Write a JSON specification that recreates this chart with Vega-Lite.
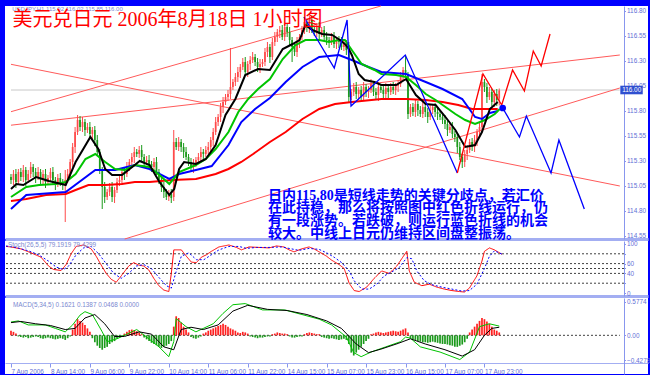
{
"$schema":"https://vega.github.io/schema/vega-lite/v6.json",
"background":"#0000ff",
"padding":{"left":4,"top":4,"right":3,"bottom":3},
"spacing":2,
"bounds":"flush",
"config":{"view":{"fill":"white","stroke":null},"axis":{"grid":false,"minExtent":0,"labelFont":"Liberation Sans","labelFontSize":6.4,"labelColor":"#5f6fd6","domainColor":"#8896ee","tickColor":"#8896ee"}},
"datasets":{
"candles":[
{"i":0,"o":115.135,"h":115.165,"l":115.065,"c":115.105},{"i":1,"o":115.105,"h":115.205,"l":115.055,"c":115.165},{"i":2,"o":115.165,"h":115.215,"l":115.025,"c":115.085},{"i":3,"o":115.085,"h":115.215,"l":115.055,"c":115.185},{"i":4,"o":115.185,"h":115.225,"l":115.095,"c":115.135},{"i":5,"o":115.135,"h":115.255,"l":115.085,"c":115.205},{"i":6,"o":115.205,"h":115.235,"l":115.045,"c":115.105},{"i":7,"o":115.105,"h":115.205,"l":115.075,"c":115.165},{"i":8,"o":115.165,"h":115.285,"l":115.125,"c":115.235},{"i":9,"o":115.235,"h":115.265,"l":115.135,"c":115.185},
{"i":10,"o":115.185,"h":115.225,"l":115.075,"c":115.135},{"i":11,"o":115.135,"h":115.235,"l":115.105,"c":115.185},{"i":12,"o":115.185,"h":115.215,"l":115.065,"c":115.105},{"i":13,"o":115.105,"h":115.205,"l":115.055,"c":115.165},{"i":14,"o":115.165,"h":115.215,"l":115.025,"c":115.085},{"i":15,"o":115.085,"h":115.155,"l":115.055,"c":115.125},{"i":16,"o":115.125,"h":115.225,"l":115.085,"c":115.185},{"i":17,"o":115.185,"h":115.235,"l":115.055,"c":115.105},{"i":18,"o":115.105,"h":115.135,"l":115.005,"c":115.065},{"i":19,"o":115.065,"h":115.165,"l":115.035,"c":115.125},
{"i":20,"o":115.125,"h":115.175,"l":115.045,"c":115.085},{"i":21,"o":115.085,"h":115.115,"l":115.005,"c":115.055},{"i":22,"o":115.065,"h":115.205,"l":114.685,"c":115.105},{"i":23,"o":115.105,"h":115.215,"l":115.075,"c":115.165},{"i":24,"o":115.165,"h":115.315,"l":115.125,"c":115.285},{"i":25,"o":115.285,"h":115.475,"l":115.235,"c":115.435},{"i":26,"o":115.435,"h":115.635,"l":115.375,"c":115.585},{"i":27,"o":115.585,"h":115.755,"l":115.555,"c":115.705},{"i":28,"o":115.705,"h":115.745,"l":115.595,"c":115.635},{"i":29,"o":115.635,"h":115.735,"l":115.585,"c":115.685},
{"i":30,"o":115.685,"h":115.715,"l":115.545,"c":115.605},{"i":31,"o":115.605,"h":115.675,"l":115.575,"c":115.635},{"i":32,"o":115.635,"h":115.685,"l":115.525,"c":115.565},{"i":33,"o":115.565,"h":115.635,"l":115.515,"c":115.605},{"i":34,"o":115.605,"h":115.645,"l":115.445,"c":115.505},{"i":35,"o":115.505,"h":115.555,"l":115.355,"c":115.385},{"i":36,"o":115.385,"h":115.415,"l":115.165,"c":115.205},{"i":37,"o":115.205,"h":115.235,"l":114.815,"c":115.035},{"i":38,"o":115.035,"h":115.085,"l":114.875,"c":114.935},{"i":39,"o":114.935,"h":115.015,"l":114.905,"c":114.985},
{"i":40,"o":114.985,"h":115.075,"l":114.945,"c":115.035},{"i":41,"o":115.035,"h":115.085,"l":114.885,"c":114.935},{"i":42,"o":114.935,"h":115.035,"l":114.875,"c":115.005},{"i":43,"o":115.005,"h":115.125,"l":114.975,"c":115.085},{"i":44,"o":115.085,"h":115.155,"l":115.045,"c":115.105},{"i":45,"o":115.105,"h":115.215,"l":115.055,"c":115.185},{"i":46,"o":115.185,"h":115.225,"l":115.105,"c":115.165},{"i":47,"o":115.165,"h":115.285,"l":115.135,"c":115.235},{"i":48,"o":115.235,"h":115.315,"l":115.195,"c":115.285},{"i":49,"o":115.285,"h":115.375,"l":115.235,"c":115.335},
{"i":50,"o":115.335,"h":115.435,"l":115.275,"c":115.385},{"i":51,"o":115.385,"h":115.415,"l":115.335,"c":115.365},{"i":52,"o":115.365,"h":115.445,"l":115.325,"c":115.405},{"i":53,"o":115.405,"h":115.455,"l":115.285,"c":115.335},{"i":54,"o":115.335,"h":115.365,"l":115.225,"c":115.285},{"i":55,"o":115.285,"h":115.345,"l":115.255,"c":115.305},{"i":56,"o":115.305,"h":115.355,"l":115.225,"c":115.265},{"i":57,"o":115.265,"h":115.295,"l":115.185,"c":115.235},{"i":58,"o":115.235,"h":115.325,"l":115.175,"c":115.285},{"i":59,"o":115.285,"h":115.335,"l":115.155,"c":115.185},
{"i":60,"o":115.185,"h":115.215,"l":115.065,"c":115.105},{"i":61,"o":115.105,"h":115.145,"l":114.985,"c":115.035},{"i":62,"o":115.035,"h":115.085,"l":114.925,"c":114.985},{"i":63,"o":114.985,"h":115.015,"l":114.905,"c":114.935},{"i":64,"o":114.935,"h":115.005,"l":114.895,"c":114.965},{"i":65,"o":114.965,"h":115.015,"l":114.875,"c":114.925},{"i":66,"o":114.935,"h":115.605,"l":114.895,"c":115.485},{"i":67,"o":115.485,"h":115.525,"l":115.405,"c":115.435},{"i":68,"o":115.435,"h":115.535,"l":115.395,"c":115.485},{"i":69,"o":115.485,"h":115.515,"l":115.385,"c":115.435},
{"i":70,"o":115.435,"h":115.475,"l":115.325,"c":115.385},{"i":71,"o":115.385,"h":115.435,"l":115.305,"c":115.335},{"i":72,"o":115.335,"h":115.365,"l":115.245,"c":115.285},{"i":73,"o":115.285,"h":115.325,"l":115.185,"c":115.235},{"i":74,"o":115.235,"h":115.315,"l":115.175,"c":115.265},{"i":75,"o":115.265,"h":115.335,"l":115.235,"c":115.305},{"i":76,"o":115.305,"h":115.375,"l":115.265,"c":115.335},{"i":77,"o":115.335,"h":115.435,"l":115.285,"c":115.385},{"i":78,"o":115.385,"h":115.415,"l":115.305,"c":115.365},{"i":79,"o":115.365,"h":115.445,"l":115.335,"c":115.405},
{"i":80,"o":115.405,"h":115.485,"l":115.365,"c":115.435},{"i":81,"o":115.435,"h":115.535,"l":115.385,"c":115.505},{"i":82,"o":115.505,"h":115.625,"l":115.445,"c":115.585},{"i":83,"o":115.585,"h":115.735,"l":115.555,"c":115.685},{"i":84,"o":115.685,"h":115.765,"l":115.645,"c":115.735},{"i":85,"o":115.735,"h":115.875,"l":115.685,"c":115.835},{"i":86,"o":115.835,"h":115.935,"l":115.775,"c":115.885},{"i":87,"o":115.885,"h":115.965,"l":115.855,"c":115.935},{"i":88,"o":115.935,"h":116.005,"l":115.895,"c":115.965},{"i":89,"o":115.965,"h":116.425,"l":115.915,"c":116.035},
{"i":90,"o":116.035,"h":116.115,"l":116.005,"c":116.085},{"i":91,"o":116.085,"h":116.175,"l":116.045,"c":116.135},{"i":92,"o":116.135,"h":116.235,"l":116.085,"c":116.185},{"i":93,"o":116.185,"h":116.265,"l":116.125,"c":116.235},{"i":94,"o":116.235,"h":116.325,"l":116.205,"c":116.285},{"i":95,"o":116.285,"h":116.335,"l":116.145,"c":116.185},{"i":96,"o":116.185,"h":116.295,"l":116.135,"c":116.265},{"i":97,"o":116.265,"h":116.345,"l":116.205,"c":116.305},{"i":98,"o":116.305,"h":116.385,"l":116.275,"c":116.335},{"i":99,"o":116.335,"h":116.365,"l":116.245,"c":116.285},
{"i":100,"o":116.285,"h":116.325,"l":116.185,"c":116.235},{"i":101,"o":116.235,"h":116.315,"l":116.175,"c":116.265},{"i":102,"o":116.265,"h":116.315,"l":116.235,"c":116.285},{"i":103,"o":116.285,"h":116.425,"l":116.245,"c":116.385},{"i":104,"o":116.385,"h":116.485,"l":116.335,"c":116.435},{"i":105,"o":116.435,"h":116.465,"l":116.275,"c":116.335},{"i":106,"o":116.335,"h":116.525,"l":116.305,"c":116.485},{"i":107,"o":116.485,"h":116.585,"l":116.445,"c":116.535},{"i":108,"o":116.535,"h":116.615,"l":116.485,"c":116.585},{"i":109,"o":116.585,"h":116.645,"l":116.525,"c":116.605},
{"i":110,"o":116.605,"h":116.655,"l":116.505,"c":116.535},{"i":111,"o":116.535,"h":116.665,"l":116.495,"c":116.635},{"i":112,"o":116.635,"h":116.675,"l":116.535,"c":116.585},{"i":113,"o":116.585,"h":116.635,"l":116.445,"c":116.505},{"i":114,"o":116.505,"h":116.535,"l":116.285,"c":116.435},{"i":115,"o":116.435,"h":116.475,"l":116.345,"c":116.385},{"i":116,"o":116.385,"h":116.535,"l":116.335,"c":116.485},{"i":117,"o":116.485,"h":116.565,"l":116.425,"c":116.535},{"i":118,"o":116.535,"h":116.645,"l":116.505,"c":116.605},{"i":119,"o":116.605,"h":116.735,"l":116.565,"c":116.685},
{"i":120,"o":116.685,"h":116.715,"l":116.585,"c":116.635},{"i":121,"o":116.635,"h":116.745,"l":116.575,"c":116.705},{"i":122,"o":116.705,"h":116.755,"l":116.575,"c":116.605},{"i":123,"o":116.605,"h":116.635,"l":116.545,"c":116.585},{"i":124,"o":116.585,"h":116.675,"l":116.535,"c":116.635},{"i":125,"o":116.635,"h":116.685,"l":116.505,"c":116.565},{"i":126,"o":116.565,"h":116.635,"l":116.535,"c":116.605},{"i":127,"o":116.605,"h":116.645,"l":116.495,"c":116.535},{"i":128,"o":116.535,"h":116.585,"l":116.455,"c":116.505},{"i":129,"o":116.505,"h":116.535,"l":116.425,"c":116.485},
{"i":130,"o":116.485,"h":116.575,"l":116.455,"c":116.535},{"i":131,"o":116.535,"h":116.585,"l":116.425,"c":116.465},{"i":132,"o":116.465,"h":116.535,"l":116.415,"c":116.505},{"i":133,"o":116.505,"h":116.545,"l":116.425,"c":116.485},{"i":134,"o":116.485,"h":116.535,"l":116.405,"c":116.435},{"i":135,"o":116.435,"h":116.495,"l":116.395,"c":116.465},{"i":136,"o":116.465,"h":116.505,"l":116.355,"c":116.405},{"i":137,"o":116.435,"h":116.485,"l":115.885,"c":115.935},{"i":138,"o":115.935,"h":116.015,"l":115.905,"c":115.985},{"i":139,"o":115.985,"h":116.075,"l":115.945,"c":116.035},
{"i":140,"o":116.035,"h":116.085,"l":115.915,"c":115.965},{"i":141,"o":115.965,"h":116.035,"l":115.905,"c":116.005},{"i":142,"o":116.005,"h":116.045,"l":115.905,"c":115.935},{"i":143,"o":115.935,"h":116.085,"l":115.895,"c":116.035},{"i":144,"o":116.035,"h":116.065,"l":115.935,"c":115.985},{"i":145,"o":115.985,"h":116.045,"l":115.925,"c":116.005},{"i":146,"o":116.005,"h":116.115,"l":115.975,"c":116.065},{"i":147,"o":116.065,"h":116.095,"l":115.945,"c":115.985},{"i":148,"o":115.985,"h":116.025,"l":115.905,"c":115.955},{"i":149,"o":115.955,"h":116.085,"l":115.895,"c":116.035},
{"i":150,"o":116.035,"h":116.065,"l":115.975,"c":116.005},{"i":151,"o":116.005,"h":116.045,"l":115.925,"c":115.965},{"i":152,"o":115.965,"h":116.075,"l":115.915,"c":116.025},{"i":153,"o":116.025,"h":116.055,"l":115.925,"c":115.985},{"i":154,"o":115.985,"h":116.075,"l":115.955,"c":116.035},{"i":155,"o":116.035,"h":116.085,"l":115.965,"c":116.005},{"i":156,"o":116.005,"h":116.075,"l":115.955,"c":116.045},{"i":157,"o":116.045,"h":116.105,"l":115.985,"c":116.065},{"i":158,"o":116.065,"h":116.185,"l":116.035,"c":116.135},{"i":159,"o":116.135,"h":116.235,"l":116.095,"c":116.205},
{"i":160,"o":116.205,"h":116.355,"l":116.125,"c":116.165},{"i":161,"o":116.165,"h":116.185,"l":115.715,"c":115.765},{"i":162,"o":115.765,"h":115.865,"l":115.735,"c":115.835},{"i":163,"o":115.835,"h":115.875,"l":115.745,"c":115.785},{"i":164,"o":115.785,"h":115.915,"l":115.735,"c":115.865},{"i":165,"o":115.865,"h":115.895,"l":115.745,"c":115.805},{"i":166,"o":115.805,"h":115.845,"l":115.735,"c":115.765},{"i":167,"o":115.765,"h":115.885,"l":115.725,"c":115.835},{"i":168,"o":115.835,"h":115.865,"l":115.735,"c":115.785},{"i":169,"o":115.785,"h":115.825,"l":115.675,"c":115.735},
{"i":170,"o":115.735,"h":115.855,"l":115.705,"c":115.805},{"i":171,"o":115.805,"h":115.865,"l":115.765,"c":115.835},{"i":172,"o":115.835,"h":115.875,"l":115.735,"c":115.785},{"i":173,"o":115.785,"h":115.835,"l":115.705,"c":115.765},{"i":174,"o":115.765,"h":115.795,"l":115.705,"c":115.735},{"i":175,"o":115.735,"h":115.775,"l":115.665,"c":115.705},{"i":176,"o":115.705,"h":115.755,"l":115.615,"c":115.665},{"i":177,"o":115.665,"h":115.695,"l":115.545,"c":115.605},{"i":178,"o":115.605,"h":115.675,"l":115.575,"c":115.635},{"i":179,"o":115.635,"h":115.685,"l":115.525,"c":115.565},
{"i":180,"o":115.565,"h":115.595,"l":115.485,"c":115.535},{"i":181,"o":115.535,"h":115.575,"l":115.375,"c":115.435},{"i":182,"o":115.435,"h":115.485,"l":115.305,"c":115.335},{"i":183,"o":115.335,"h":115.365,"l":115.225,"c":115.285},{"i":184,"o":115.285,"h":115.405,"l":115.235,"c":115.365},{"i":185,"o":115.365,"h":115.455,"l":115.305,"c":115.405},{"i":186,"o":115.405,"h":115.515,"l":115.375,"c":115.485},{"i":187,"o":115.485,"h":115.525,"l":115.395,"c":115.435},{"i":188,"o":115.435,"h":115.555,"l":115.385,"c":115.505},{"i":189,"o":115.505,"h":115.615,"l":115.445,"c":115.585},
{"i":190,"o":115.585,"h":115.675,"l":115.555,"c":115.635},{"i":191,"o":115.635,"h":116.165,"l":115.605,"c":116.085},{"i":192,"o":116.085,"h":116.115,"l":115.985,"c":116.035},{"i":193,"o":116.035,"h":116.075,"l":115.875,"c":115.935},{"i":194,"o":115.935,"h":116.035,"l":115.905,"c":115.985},{"i":195,"o":115.985,"h":116.015,"l":115.845,"c":115.885},{"i":196,"o":115.885,"h":116.005,"l":115.835,"c":115.965},{"i":197,"o":115.965,"h":116.015,"l":115.845,"c":115.905},{"i":198,"o":115.92,"h":116.02,"l":115.85,"c":116.0}
],
"ma":[
{"s":"r","i":0,"p":114.895},{"s":"r","i":6.2,"p":114.915},{"s":"r","i":14.2,"p":114.955},{"s":"r","i":22.2,"p":114.965},{"s":"r","i":26.2,"p":115.005},{"s":"r","i":31.4,"p":115.055},{"s":"r","i":38.2,"p":115.055},{"s":"r","i":45,"p":115.065},{"s":"r","i":50.2,"p":115.085},{"s":"r","i":56.2,"p":115.085},{"s":"r","i":65.4,"p":115.105},{"s":"r","i":75,"p":115.115},{"s":"r","i":83,"p":115.165},{"s":"r","i":88.2,"p":115.215},{"s":"r","i":93.4,"p":115.285},{"s":"r","i":98.2,"p":115.365},{"s":"r","i":105,"p":115.485},{"s":"r","i":111.4,"p":115.585},{"s":"r","i":118.2,"p":115.715},{"s":"r","i":125,"p":115.815},{"s":"r","i":131.4,"p":115.865},{"s":"r","i":138.2,"p":115.885},{"s":"r","i":150.2,"p":115.915},{"s":"r","i":160.2,"p":115.915},{"s":"r","i":168.2,"p":115.905},{"s":"r","i":175,"p":115.885},{"s":"r","i":181.4,"p":115.855},{"s":"r","i":187,"p":115.815},{"s":"r","i":197.4,"p":115.815},
{"s":"b","i":0,"p":114.815},{"s":"b","i":6.2,"p":114.955},{"s":"b","i":22.2,"p":114.985},{"s":"b","i":34.2,"p":115.205},{"s":"b","i":42.2,"p":115.205},{"s":"b","i":50.2,"p":115.255},{"s":"b","i":56.2,"p":115.215},{"s":"b","i":60.2,"p":115.165},{"s":"b","i":64.2,"p":115.115},{"s":"b","i":68.2,"p":115.165},{"s":"b","i":75,"p":115.205},{"s":"b","i":81.4,"p":115.245},{"s":"b","i":88.2,"p":115.455},{"s":"b","i":93.4,"p":115.685},{"s":"b","i":99,"p":115.815},{"s":"b","i":105,"p":115.925},{"s":"b","i":111.4,"p":116.085},{"s":"b","i":118.2,"p":116.235},{"s":"b","i":125,"p":116.335},{"s":"b","i":133,"p":116.355},{"s":"b","i":138.2,"p":116.305},{"s":"b","i":145,"p":116.235},{"s":"b","i":150.2,"p":116.185},{"s":"b","i":160.2,"p":116.165},{"s":"b","i":168.2,"p":116.085},{"s":"b","i":175,"p":116.015},{"s":"b","i":183,"p":115.915},{"s":"b","i":188.2,"p":115.735},{"s":"b","i":191,"p":115.715},{"s":"b","i":194.2,"p":115.775},{"s":"b","i":197.4,"p":115.795},
{"s":"g","i":0,"p":114.935},{"s":"g","i":6.2,"p":115.035},{"s":"g","i":11.4,"p":115.055},{"s":"g","i":18.2,"p":115.065},{"s":"g","i":22.2,"p":115.085},{"s":"g","i":26.2,"p":115.165},{"s":"g","i":30.2,"p":115.315},{"s":"g","i":34.2,"p":115.365},{"s":"g","i":38.2,"p":115.285},{"s":"g","i":42.2,"p":115.215},{"s":"g","i":46.2,"p":115.205},{"s":"g","i":50.2,"p":115.255},{"s":"g","i":56.2,"p":115.235},{"s":"g","i":60.2,"p":115.155},{"s":"g","i":64.2,"p":115.065},{"s":"g","i":68.2,"p":115.185},{"s":"g","i":75,"p":115.255},{"s":"g","i":79,"p":115.315},{"s":"g","i":83,"p":115.415},{"s":"g","i":88.2,"p":115.585},{"s":"g","i":92.2,"p":115.785},{"s":"g","i":96.2,"p":115.915},{"s":"g","i":100.2,"p":116.015},{"s":"g","i":105,"p":116.115},{"s":"g","i":110.2,"p":116.315},{"s":"g","i":115.4,"p":116.455},{"s":"g","i":119.4,"p":116.505},{"s":"g","i":125,"p":116.505},{"s":"g","i":129,"p":116.485},{"s":"g","i":133,"p":116.505},{"s":"g","i":135.4,"p":116.505},{"s":"g","i":138.2,"p":116.405},{"s":"g","i":142.2,"p":116.265},{"s":"g","i":147.4,"p":116.205},{"s":"g","i":150.2,"p":116.165},{"s":"g","i":156.2,"p":116.155},{"s":"g","i":160.2,"p":116.135},{"s":"g","i":164.2,"p":116.055},{"s":"g","i":168.2,"p":115.965},{"s":"g","i":172.2,"p":115.905},{"s":"g","i":176.2,"p":115.835},{"s":"g","i":180.2,"p":115.765},{"s":"g","i":184.2,"p":115.705},{"s":"g","i":188.2,"p":115.665},{"s":"g","i":192.2,"p":115.705},{"s":"g","i":196.2,"p":115.765},{"s":"g","i":198.2,"p":115.815},
{"s":"k","i":0,"p":115.015},{"s":"k","i":2.2,"p":115.065},{"s":"k","i":5,"p":115.055},{"s":"k","i":10.2,"p":115.135},{"s":"k","i":15.4,"p":115.095},{"s":"k","i":22.2,"p":115.055},{"s":"k","i":26.2,"p":115.285},{"s":"k","i":32.2,"p":115.535},{"s":"k","i":35.4,"p":115.415},{"s":"k","i":38.2,"p":115.215},{"s":"k","i":41,"p":115.155},{"s":"k","i":45,"p":115.155},{"s":"k","i":50.2,"p":115.255},{"s":"k","i":52.2,"p":115.295},{"s":"k","i":56.2,"p":115.255},{"s":"k","i":60.2,"p":115.085},{"s":"k","i":64.2,"p":114.955},{"s":"k","i":66.2,"p":115.015},{"s":"k","i":68.2,"p":115.215},{"s":"k","i":70.2,"p":115.285},{"s":"k","i":75,"p":115.265},{"s":"k","i":79,"p":115.315},{"s":"k","i":83,"p":115.455},{"s":"k","i":87,"p":115.755},{"s":"k","i":91,"p":115.915},{"s":"k","i":95,"p":116.155},{"s":"k","i":100.2,"p":116.215},{"s":"k","i":105,"p":116.205},{"s":"k","i":110.2,"p":116.415},{"s":"k","i":114.2,"p":116.465},{"s":"k","i":117,"p":116.505},{"s":"k","i":119.4,"p":116.655},{"s":"k","i":122.2,"p":116.605},{"s":"k","i":126.2,"p":116.565},{"s":"k","i":130.2,"p":116.555},{"s":"k","i":133.4,"p":116.505},{"s":"k","i":135.4,"p":116.465},{"s":"k","i":137,"p":116.415},{"s":"k","i":138.2,"p":116.355},{"s":"k","i":141,"p":116.165},{"s":"k","i":143.4,"p":116.105},{"s":"k","i":147.4,"p":116.085},{"s":"k","i":150.2,"p":116.055},{"s":"k","i":156.2,"p":116.055},{"s":"k","i":160.2,"p":116.115},{"s":"k","i":164.2,"p":115.955},{"s":"k","i":168.2,"p":115.865},{"s":"k","i":172.2,"p":115.855},{"s":"k","i":176.2,"p":115.735},{"s":"k","i":180.2,"p":115.605},{"s":"k","i":184.2,"p":115.435},{"s":"k","i":188.2,"p":115.455},{"s":"k","i":191,"p":115.585},{"s":"k","i":194.2,"p":115.815},{"s":"k","i":197.4,"p":115.885}
],
"trend":[
{"id":"A","i":0,"p":115.653},{"id":"A","i":246.9,"p":116.355},
{"id":"B","i":46.1,"p":114.515},{"id":"B","i":246.9,"p":116.025},
{"id":"C","i":0,"p":116.262},{"id":"C","i":246.9,"p":115.045},
{"id":"D","i":0,"p":115.788},{"id":"D","i":150.0,"p":116.845}
],
"zig":[
{"id":"bz","i":118.8,"p":116.735},{"id":"bz","i":131.1,"p":116.225},{"id":"bz","i":136.3,"p":116.705},{"id":"bz","i":137.9,"p":115.845},{"id":"bz","i":159.9,"p":116.355},{"id":"bz","i":181.0,"p":115.175},
{"id":"rz","i":181.0,"p":115.175},{"id":"rz","i":191.4,"p":116.165},{"id":"rz","i":199.0,"p":115.855},{"id":"rz","i":203.4,"p":116.205},{"id":"rz","i":208.2,"p":115.995},{"id":"rz","i":211.8,"p":116.395},{"id":"rz","i":215.0,"p":116.245},{"id":"rz","i":218.6,"p":116.565},
{"id":"bf","i":199.4,"p":115.825},{"id":"bf","i":206.2,"p":115.535},{"id":"bf","i":209.0,"p":115.745},{"id":"bf","i":219.0,"p":115.175},{"id":"bf","i":222.2,"p":115.505},{"id":"bf","i":232.5,"p":114.815}
],
"price":[{"i":0,"i2":246.9,"p":116.005}],
"tag":[{"i":247.1,"i2":256.2,"p":116.048,"p2":115.962}],
"tagtext":[{"i":251.7,"p":116.005,"t":"116.00"}],
"dot":[{"i":199.4,"p":115.825}],
"title":[{"i":0.6,"p":116.71,"t":"美元兑日元  2006年8月18日  1小时图"}],
"header":[{"i":0.5,"p":116.797,"t":"USDJPY,H1  115.92 116.02 115.85 116.00"}],
"notes":[
{"i":104.2,"p":114.949,"t":"日内115.80是短线走势的关键分歧点，若汇价"},
{"i":104.2,"p":114.821,"t":"在此持稳，那么将按照图中红色折线运行，仍"},
{"i":104.2,"p":114.693,"t":"有一段涨势。若跌破，则运行蓝色折线的机会"},
{"i":104.2,"p":114.565,"t":"较大。中线上日元仍维持区间盘整振荡。"}
],
"levels":[{"i":0,"i2":246.9,"v":80},{"i":0,"i2":246.9,"v":60},{"i":0,"i2":246.9,"v":50},{"i":0,"i2":246.9,"v":40},{"i":0,"i2":246.9,"v":20}],
"stoch":[
{"s":"K","i":0,"v":95},{"s":"K","i":2,"v":94},{"s":"K","i":6,"v":90},{"s":"K","i":10,"v":82},{"s":"K","i":14,"v":73},{"s":"K","i":17,"v":55},{"s":"K","i":19,"v":48},{"s":"K","i":22,"v":46},{"s":"K","i":24,"v":58},{"s":"K","i":26,"v":80},{"s":"K","i":28,"v":95},{"s":"K","i":31,"v":98},{"s":"K","i":34,"v":90},{"s":"K","i":36,"v":75},{"s":"K","i":38,"v":57},{"s":"K","i":40,"v":40},{"s":"K","i":42,"v":28},{"s":"K","i":44,"v":22},{"s":"K","i":46,"v":35},{"s":"K","i":49,"v":55},{"s":"K","i":51,"v":62},{"s":"K","i":53,"v":57},{"s":"K","i":55,"v":55},{"s":"K","i":57,"v":47},{"s":"K","i":59,"v":30},{"s":"K","i":61,"v":15},{"s":"K","i":63,"v":6},{"s":"K","i":65,"v":3},{"s":"K","i":66,"v":40},{"s":"K","i":67,"v":88},{"s":"K","i":70,"v":88},{"s":"K","i":72,"v":75},{"s":"K","i":74,"v":63},{"s":"K","i":76,"v":62},{"s":"K","i":78,"v":73},{"s":"K","i":80,"v":78},{"s":"K","i":82,"v":85},{"s":"K","i":85,"v":94},{"s":"K","i":89,"v":98},{"s":"K","i":92,"v":93},{"s":"K","i":94,"v":88},{"s":"K","i":97,"v":94},{"s":"K","i":101,"v":93},{"s":"K","i":105,"v":92},{"s":"K","i":108,"v":96},{"s":"K","i":111,"v":94},{"s":"K","i":113,"v":88},{"s":"K","i":115,"v":84},{"s":"K","i":118,"v":90},{"s":"K","i":121,"v":94},{"s":"K","i":123,"v":90},{"s":"K","i":125,"v":84},{"s":"K","i":128,"v":75},{"s":"K","i":130,"v":67},{"s":"K","i":133,"v":58},{"s":"K","i":135,"v":50},{"s":"K","i":137,"v":20},{"s":"K","i":139,"v":5},{"s":"K","i":141,"v":3},{"s":"K","i":144,"v":12},{"s":"K","i":147,"v":30},{"s":"K","i":150,"v":45},{"s":"K","i":153,"v":40},{"s":"K","i":156,"v":55},{"s":"K","i":158,"v":70},{"s":"K","i":160,"v":85},{"s":"K","i":161,"v":45},{"s":"K","i":163,"v":22},{"s":"K","i":166,"v":15},{"s":"K","i":169,"v":18},{"s":"K","i":172,"v":12},{"s":"K","i":175,"v":8},{"s":"K","i":178,"v":5},{"s":"K","i":181,"v":3},{"s":"K","i":183,"v":2},{"s":"K","i":185,"v":10},{"s":"K","i":188,"v":35},{"s":"K","i":190,"v":65},{"s":"K","i":191,"v":85},{"s":"K","i":193,"v":92},{"s":"K","i":195,"v":88},{"s":"K","i":198,"v":79},
{"s":"D","i":0,"v":96},{"s":"D","i":4,"v":93},{"s":"D","i":9,"v":86},{"s":"D","i":13,"v":78},{"s":"D","i":17,"v":65},{"s":"D","i":20,"v":53},{"s":"D","i":23,"v":48},{"s":"D","i":25,"v":55},{"s":"D","i":28,"v":78},{"s":"D","i":31,"v":92},{"s":"D","i":34,"v":95},{"s":"D","i":37,"v":80},{"s":"D","i":40,"v":60},{"s":"D","i":43,"v":40},{"s":"D","i":46,"v":30},{"s":"D","i":49,"v":40},{"s":"D","i":52,"v":55},{"s":"D","i":55,"v":58},{"s":"D","i":58,"v":50},{"s":"D","i":61,"v":32},{"s":"D","i":64,"v":15},{"s":"D","i":66,"v":10},{"s":"D","i":68,"v":45},{"s":"D","i":70,"v":75},{"s":"D","i":73,"v":82},{"s":"D","i":76,"v":68},{"s":"D","i":79,"v":68},{"s":"D","i":82,"v":78},{"s":"D","i":85,"v":88},{"s":"D","i":89,"v":95},{"s":"D","i":93,"v":95},{"s":"D","i":96,"v":91},{"s":"D","i":100,"v":93},{"s":"D","i":105,"v":93},{"s":"D","i":110,"v":94},{"s":"D","i":114,"v":90},{"s":"D","i":117,"v":87},{"s":"D","i":121,"v":91},{"s":"D","i":125,"v":89},{"s":"D","i":128,"v":82},{"s":"D","i":131,"v":73},{"s":"D","i":134,"v":62},{"s":"D","i":137,"v":45},{"s":"D","i":139,"v":25},{"s":"D","i":142,"v":8},{"s":"D","i":145,"v":8},{"s":"D","i":148,"v":18},{"s":"D","i":151,"v":35},{"s":"D","i":154,"v":43},{"s":"D","i":157,"v":52},{"s":"D","i":160,"v":72},{"s":"D","i":162,"v":70},{"s":"D","i":164,"v":45},{"s":"D","i":167,"v":25},{"s":"D","i":170,"v":17},{"s":"D","i":174,"v":12},{"s":"D","i":178,"v":8},{"s":"D","i":182,"v":4},{"s":"D","i":185,"v":5},{"s":"D","i":188,"v":18},{"s":"D","i":191,"v":50},{"s":"D","i":193,"v":75},{"s":"D","i":195,"v":86},{"s":"D","i":198,"v":79.4}
],
"stochhead":[{"i":0.8,"v":93,"t":"Stoch(26,5,5) 79.1919 79.4299"}],
"zero":[{"i":0,"i2":246.9,"v":0}],
"macd":[
{"s":"M","i":0,"v":0.23},{"s":"M","i":3,"v":0.25},{"s":"M","i":7,"v":0.18},{"s":"M","i":14,"v":0.18},{"s":"M","i":18,"v":0.12},{"s":"M","i":22,"v":0.06},{"s":"M","i":25,"v":0.18},{"s":"M","i":28,"v":0.35},{"s":"M","i":30,"v":0.41},{"s":"M","i":33,"v":0.36},{"s":"M","i":37,"v":0.06},{"s":"M","i":39,"v":-0.11},{"s":"M","i":43,"v":-0.06},{"s":"M","i":47,"v":0.02},{"s":"M","i":51,"v":0.1},{"s":"M","i":55,"v":-0.03},{"s":"M","i":60,"v":-0.2},{"s":"M","i":64,"v":-0.37},{"s":"M","i":66,"v":-0.11},{"s":"M","i":67,"v":0.29},{"s":"M","i":71,"v":0.15},{"s":"M","i":75,"v":0.06},{"s":"M","i":82,"v":0.2},{"s":"M","i":86,"v":0.38},{"s":"M","i":90,"v":0.53},{"s":"M","i":95,"v":0.55},{"s":"M","i":102,"v":0.44},{"s":"M","i":111,"v":0.44},{"s":"M","i":118,"v":0.36},{"s":"M","i":125,"v":0.28},{"s":"M","i":130,"v":0.18},{"s":"M","i":136,"v":-0.03},{"s":"M","i":139,"v":-0.3},{"s":"M","i":142,"v":-0.37},{"s":"M","i":146,"v":-0.29},{"s":"M","i":152,"v":-0.2},{"s":"M","i":158,"v":-0.11},{"s":"M","i":160,"v":-0.03},{"s":"M","i":162,"v":-0.05},{"s":"M","i":166,"v":-0.2},{"s":"M","i":174,"v":-0.29},{"s":"M","i":182,"v":-0.42},{"s":"M","i":186,"v":-0.29},{"s":"M","i":190,"v":0.15},{"s":"M","i":194,"v":0.2},{"s":"M","i":198,"v":0.16},
{"s":"S","i":0,"v":0.22},{"s":"S","i":4,"v":0.24},{"s":"S","i":10,"v":0.2},{"s":"S","i":16,"v":0.17},{"s":"S","i":22,"v":0.1},{"s":"S","i":26,"v":0.12},{"s":"S","i":30,"v":0.3},{"s":"S","i":34,"v":0.36},{"s":"S","i":38,"v":0.2},{"s":"S","i":42,"v":-0.02},{"s":"S","i":46,"v":-0.02},{"s":"S","i":52,"v":0.06},{"s":"S","i":57,"v":0.02},{"s":"S","i":62,"v":-0.2},{"s":"S","i":66,"v":-0.25},{"s":"S","i":69,"v":0.1},{"s":"S","i":73,"v":0.14},{"s":"S","i":78,"v":0.1},{"s":"S","i":84,"v":0.18},{"s":"S","i":90,"v":0.42},{"s":"S","i":96,"v":0.52},{"s":"S","i":104,"v":0.45},{"s":"S","i":112,"v":0.43},{"s":"S","i":120,"v":0.36},{"s":"S","i":128,"v":0.25},{"s":"S","i":134,"v":0.12},{"s":"S","i":140,"v":-0.15},{"s":"S","i":145,"v":-0.3},{"s":"S","i":150,"v":-0.24},{"s":"S","i":157,"v":-0.14},{"s":"S","i":162,"v":-0.06},{"s":"S","i":168,"v":-0.15},{"s":"S","i":176,"v":-0.25},{"s":"S","i":183,"v":-0.36},{"s":"S","i":188,"v":-0.25},{"s":"S","i":192,"v":0.0},{"s":"S","i":195,"v":0.12},{"s":"S","i":198,"v":0.14}
],
"hist":[
{"i":0,"v":0.08},{"i":1,"v":0.06},{"i":2,"v":0.03},{"i":3,"v":-0.02},{"i":4,"v":-0.03},{"i":5,"v":-0.04},{"i":6,"v":-0.03},{"i":7,"v":-0.05},{"i":8,"v":-0.04},{"i":9,"v":-0.03},{"i":10,"v":-0.02},{"i":11,"v":-0.03},{"i":12,"v":-0.05},{"i":13,"v":-0.06},{"i":14,"v":-0.05},{"i":15,"v":-0.04},{"i":16,"v":-0.05},{"i":17,"v":-0.06},{"i":18,"v":-0.07},{"i":19,"v":-0.06},{"i":20,"v":-0.05},{"i":21,"v":-0.06},{"i":22,"v":-0.08},{"i":23,"v":-0.05},{"i":24,"v":-0.02},
{"i":25,"v":0.1},{"i":26,"v":0.2},{"i":27,"v":0.28},{"i":28,"v":0.25},{"i":29,"v":0.22},{"i":30,"v":0.18},{"i":31,"v":0.12},{"i":32,"v":0.06},
{"i":33,"v":-0.05},{"i":34,"v":-0.12},{"i":35,"v":-0.18},{"i":36,"v":-0.22},{"i":37,"v":-0.25},{"i":38,"v":-0.22},{"i":39,"v":-0.2},{"i":40,"v":-0.15},{"i":41,"v":-0.12},{"i":42,"v":-0.1},{"i":43,"v":-0.06},{"i":44,"v":-0.04},{"i":45,"v":-0.02},
{"i":46,"v":0.03},{"i":47,"v":0.06},{"i":48,"v":0.09},{"i":49,"v":0.1},{"i":50,"v":0.09},{"i":51,"v":0.07},{"i":52,"v":0.05},{"i":53,"v":0.02},
{"i":54,"v":-0.04},{"i":55,"v":-0.07},{"i":56,"v":-0.1},{"i":57,"v":-0.13},{"i":58,"v":-0.15},{"i":59,"v":-0.17},{"i":60,"v":-0.2},{"i":61,"v":-0.22},{"i":62,"v":-0.2},{"i":63,"v":-0.18},{"i":64,"v":-0.15},{"i":65,"v":-0.1},
{"i":66,"v":0.15},{"i":67,"v":0.33},{"i":68,"v":0.3},{"i":69,"v":0.22},{"i":70,"v":0.15},{"i":71,"v":0.1},{"i":72,"v":0.05},
{"i":73,"v":-0.03},{"i":74,"v":-0.05},{"i":75,"v":-0.06},{"i":76,"v":-0.04},{"i":77,"v":-0.02},
{"i":78,"v":0.03},{"i":79,"v":0.05},{"i":80,"v":0.08},{"i":81,"v":0.1},{"i":82,"v":0.12},{"i":83,"v":0.14},{"i":84,"v":0.16},{"i":85,"v":0.18},{"i":86,"v":0.2},{"i":87,"v":0.18},{"i":88,"v":0.15},{"i":89,"v":0.12},{"i":90,"v":0.1},{"i":91,"v":0.08},{"i":92,"v":0.05},{"i":93,"v":0.04},{"i":94,"v":0.06},{"i":95,"v":0.05},{"i":96,"v":0.03},
{"i":97,"v":-0.02},{"i":98,"v":-0.03},{"i":99,"v":-0.04},{"i":100,"v":-0.05},{"i":101,"v":-0.04},{"i":102,"v":-0.04},{"i":103,"v":-0.03},{"i":104,"v":-0.02},{"i":105,"v":-0.02},
{"i":106,"v":0.02},{"i":107,"v":0.03},{"i":108,"v":0.05},{"i":109,"v":0.04},{"i":110,"v":0.03},{"i":111,"v":0.03},{"i":112,"v":0.02},
{"i":113,"v":-0.02},{"i":114,"v":-0.04},{"i":115,"v":-0.04},{"i":116,"v":-0.03},{"i":117,"v":-0.02},{"i":118,"v":-0.02},
{"i":119,"v":0.02},{"i":120,"v":0.04},{"i":121,"v":0.05},{"i":122,"v":0.04},{"i":123,"v":0.03},{"i":124,"v":0.02},{"i":125,"v":0.02},
{"i":126,"v":-0.03},{"i":127,"v":-0.04},{"i":128,"v":-0.05},{"i":129,"v":-0.06},{"i":130,"v":-0.05},{"i":131,"v":-0.06},{"i":132,"v":-0.07},{"i":133,"v":-0.08},{"i":134,"v":-0.07},{"i":135,"v":-0.06},{"i":136,"v":-0.08},
{"i":137,"v":-0.15},{"i":138,"v":-0.3},{"i":139,"v":-0.35},{"i":140,"v":-0.3},{"i":141,"v":-0.25},{"i":142,"v":-0.2},{"i":143,"v":-0.15},{"i":144,"v":-0.1},{"i":145,"v":-0.06},
{"i":146,"v":0.02},{"i":147,"v":0.03},{"i":148,"v":0.05},{"i":149,"v":0.06},{"i":150,"v":0.05},{"i":151,"v":0.04},{"i":152,"v":0.05},{"i":153,"v":0.06},{"i":154,"v":0.07},{"i":155,"v":0.08},{"i":156,"v":0.07},{"i":157,"v":0.06},{"i":158,"v":0.08},{"i":159,"v":0.1},{"i":160,"v":0.12},{"i":161,"v":0.05},
{"i":162,"v":-0.05},{"i":163,"v":-0.07},{"i":164,"v":-0.08},{"i":165,"v":-0.1},{"i":166,"v":-0.11},{"i":167,"v":-0.12},{"i":168,"v":-0.12},{"i":169,"v":-0.13},{"i":170,"v":-0.12},{"i":171,"v":-0.11},{"i":172,"v":-0.12},{"i":173,"v":-0.13},{"i":174,"v":-0.14},{"i":175,"v":-0.15},{"i":176,"v":-0.15},{"i":177,"v":-0.16},{"i":178,"v":-0.17},{"i":179,"v":-0.18},{"i":180,"v":-0.2},{"i":181,"v":-0.2},{"i":182,"v":-0.18},{"i":183,"v":-0.16},{"i":184,"v":-0.12},{"i":185,"v":-0.06},
{"i":186,"v":0.05},{"i":187,"v":0.1},{"i":188,"v":0.15},{"i":189,"v":0.2},{"i":190,"v":0.25},{"i":191,"v":0.3},{"i":192,"v":0.28},{"i":193,"v":0.24},{"i":194,"v":0.2},{"i":195,"v":0.15},{"i":196,"v":0.1},{"i":197,"v":0.08},{"i":198,"v":0.05}
],
"macdhead":[{"i":0.8,"v":0.53,"t":"MACD(5,34,5) 0.1621 0.1387 0.0468 0.0000"}]
},
"vconcat":[
{
"width":643,"height":233,
"encoding":{
"x":{"field":"i","type":"quantitative","scale":{"domain":[-0.4,256.3],"nice":false,"zero":false},"axis":{"orient":"bottom","labels":false,"ticks":false,"title":null,"domainColor":"#a3aef2","domainWidth":3}},
"y":{"field":"p","type":"quantitative","scale":{"domain":[114.515,116.845],"nice":false,"zero":false},"axis":{"orient":"right","offset":-24,"title":null,"values":[114.55,114.8,115.05,115.3,115.55,115.8,116.05,116.3,116.55,116.8],"format":".2f","tickSize":1.5,"labelPadding":1,"maxExtent":24}}
},
"layer":[
{"data":{"name":"price"},"mark":{"type":"rule","color":"#c8c8c8","strokeWidth":1},"encoding":{"x2":{"field":"i2"}}},
{"data":{"name":"trend"},"mark":{"type":"line","color":"#ff5a5a","strokeWidth":1},"encoding":{"detail":{"field":"id"}}},
{"data":{"name":"candles"},"mark":{"type":"rule","strokeWidth":1},"encoding":{"y":{"field":"l","type":"quantitative","scale":{"domain":[114.515,116.845],"nice":false,"zero":false}},"y2":{"field":"h"},"color":{"condition":{"test":"datum.c >= datum.o","value":"#ff4a4a"},"value":"#1c9a1c"}}},
{"data":{"name":"candles"},"mark":{"type":"bar","size":1.7},"encoding":{"y":{"field":"o","type":"quantitative","scale":{"domain":[114.515,116.845],"nice":false,"zero":false}},"y2":{"field":"c"},"color":{"condition":{"test":"datum.c >= datum.o","value":"#ff4a4a"},"value":"#1c9a1c"}}},
{"data":{"name":"ma"},"mark":{"type":"line"},"encoding":{"color":{"field":"s","type":"nominal","scale":{"domain":["r","b","g","k","bz","rz","bf"],"range":["#ff0000","#0000ff","#00c400","#000000","#0000ff","#ff0000","#0000ff"]},"legend":null},"strokeWidth":{"field":"s","type":"nominal","scale":{"domain":["r","b","g","k"],"range":[2,2,1.5,1.5]},"legend":null}}},
{"data":{"name":"zig"},"mark":{"type":"line","strokeWidth":1.3},"encoding":{"color":{"field":"id","type":"nominal","scale":{"domain":["r","b","g","k","bz","rz","bf"],"range":["#ff0000","#0000ff","#00c400","#000000","#0000ff","#ff0000","#0000ff"]},"legend":null},"detail":{"field":"id"}}},
{"data":{"name":"dot"},"mark":{"type":"point","filled":true,"size":45,"color":"#0000ff","opacity":1}},
{"data":{"name":"header"},"mark":{"type":"text","align":"left","baseline":"alphabetic","font":"Liberation Sans","fontSize":6,"color":"#7b88d0"},"encoding":{"text":{"field":"t"}}},
{"data":{"name":"title"},"mark":{"type":"text","align":"left","baseline":"middle","font":"'Liberation Serif', 'Noto Sans CJK SC'","fontSize":20,"color":"#ff0000"},"encoding":{"text":{"field":"t"}}},
{"data":{"name":"notes"},"mark":{"type":"text","align":"left","baseline":"middle","font":"'Liberation Serif', 'Noto Sans CJK SC'","fontSize":14,"fontWeight":"bold","color":"#0000ff"},"encoding":{"text":{"field":"t"}}},
{"data":{"name":"tag"},"mark":{"type":"rect","color":"#2f4fd0"},"encoding":{"x2":{"field":"i2"},"y2":{"field":"p2"}}},
{"data":{"name":"tagtext"},"mark":{"type":"text","align":"center","baseline":"middle","font":"Liberation Sans","fontSize":6.4,"color":"#ffffff"},"encoding":{"text":{"field":"t"}}}
]
},
{
"width":643,"height":55,
"encoding":{
"x":{"field":"i","type":"quantitative","scale":{"domain":[-0.4,256.3],"nice":false,"zero":false},"axis":{"orient":"bottom","labels":false,"ticks":false,"title":null,"domainColor":"#a3aef2","domainWidth":3}},
"y":{"field":"v","type":"quantitative","scale":{"domain":[-6.1,106.1],"nice":false,"zero":false},"axis":{"orient":"right","offset":-24,"title":null,"values":[0,20,40,50,60,80,100],"tickSize":1.5,"labelPadding":1,"maxExtent":24}}
},
"layer":[
{"data":{"name":"levels"},"mark":{"type":"rule","color":"#404040","strokeWidth":1,"strokeDash":[2,2]},"encoding":{"x2":{"field":"i2"}}},
{"data":{"name":"stoch"},"mark":{"type":"line","strokeWidth":1},"encoding":{"color":{"field":"s","type":"nominal","scale":{"domain":["K","D"],"range":["#4cd0c8","#ff4040"]},"legend":null},"strokeDash":{"field":"s","type":"nominal","scale":{"domain":["K","D"],"range":[[1,0],[2,2]]},"legend":null}}},
{"data":{"name":"stochhead"},"mark":{"type":"text","align":"left","baseline":"alphabetic","font":"Liberation Sans","fontSize":6.4,"color":"#7b88d0"},"encoding":{"text":{"field":"t"}}}
]
},
{
"width":643,"height":76,
"encoding":{
"x":{"field":"i","type":"quantitative","scale":{"domain":[-0.4,256.3],"nice":false,"zero":false},"axis":{"orient":"bottom","offset":-11,"title":null,"values":[0,16,32,48,64,80,96,112,128,144,160,176,192],"labelExpr":"['7 Aug 2006','8 Aug 14:00','9 Aug 06:00','9 Aug 22:00','10 Aug 14:00','11 Aug 06:00','11 Aug 22:00','14 Aug 15:00','15 Aug 07:00','15 Aug 23:00','16 Aug 15:00','17 Aug 07:00','17 Aug 23:00'][round(datum.value/16)]","labelAlign":"left","labelOverlap":false,"labelFlush":false,"tickSize":4,"labelPadding":1,"domainColor":"#a3aef2","maxExtent":11}},
"y":{"field":"v","type":"quantitative","scale":{"domain":[-0.6704,0.6467],"nice":false,"zero":false},"axis":{"orient":"right","offset":-24,"title":null,"values":[-0.4278,0,0.5774],"labelExpr":"datum.value == 0 ? '0.00' : format(datum.value, '.4f')","tickSize":1.5,"labelPadding":1,"maxExtent":24}}
},
"layer":[
{"data":{"name":"zero"},"mark":{"type":"rule","color":"#404040","strokeWidth":1,"strokeDash":[2,2]},"encoding":{"x2":{"field":"i2"}}},
{"data":{"name":"hist"},"mark":{"type":"bar","size":1.7},"encoding":{"y2":{"datum":0},"color":{"condition":{"test":"datum.v >= 0","value":"#ff2020"},"value":"#1c9a1c"}}},
{"data":{"name":"macd"},"mark":{"type":"line","strokeWidth":1},"encoding":{"color":{"field":"s","type":"nominal","scale":{"domain":["M","S"],"range":["#303030","#ff3030"]},"legend":null}}},
{"data":{"name":"macdhead"},"mark":{"type":"text","align":"left","baseline":"middle","font":"Liberation Sans","fontSize":6.4,"color":"#7b88d0"},"encoding":{"text":{"field":"t"}}}
]
}
]
}
